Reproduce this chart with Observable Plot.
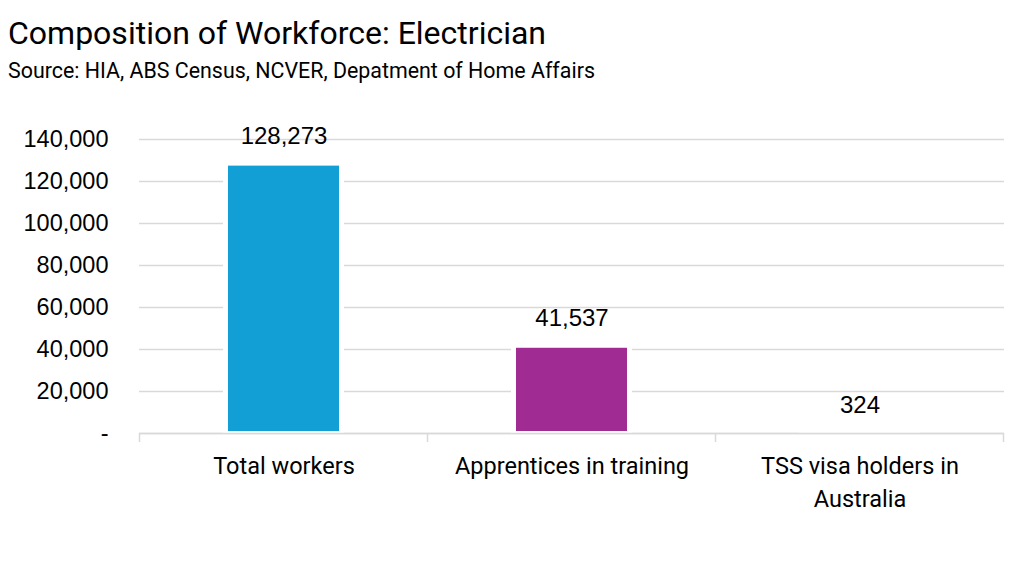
<!DOCTYPE html>
<html>
<head>
<meta charset="utf-8">
<script src="https://cdn.jsdelivr.net/npm/d3@7"></script>
<script src="https://cdn.jsdelivr.net/npm/@observablehq/plot@0.6"></script>
<style>
  html, body { margin: 0; padding: 0; background: #fff; width: 1024px; height: 576px; overflow: hidden; }
  #title { position: absolute; left: 8px; top: 14px; font-family: "Roboto", sans-serif; font-size: 32px; color: #000; white-space: nowrap; }
  #subtitle { position: absolute; left: 8px; top: 58px; font-family: "Roboto", sans-serif; font-size: 21.4px; color: #000; white-space: nowrap; }
  #chart { position: absolute; left: 0; top: 90px; }
</style>
</head>
<body>
<div id="title">Composition of Workforce: Electrician</div>
<div id="subtitle">Source: HIA, ABS Census, NCVER, Depatment of Home Affairs</div>
<div id="chart"></div>
<script>
const categories = ["Total workers", "Apprentices in training", "TSS visa holders in\nAustralia"];
const values = [128273, 41537, 324];
const barColors = ["#119FD6", "#A02B93", "#E97132"];
const yTicks = [0, 20000, 40000, 60000, 80000, 100000, 120000, 140000];

const data = categories.map((c, i) => ({category: c, value: values[i], color: barColors[i]}));
const fmt = d3.format(",");
const catFont = "Roboto, sans-serif";
const arial = "'Liberation Sans', Arial, sans-serif";

function bandBoundaries(index, scales, values, dimensions) {
  const x = scales.x;
  const step = x.step ? x.step() : (dimensions.width - dimensions.marginLeft - dimensions.marginRight) / categories.length;
  const bw = x.bandwidth ? x.bandwidth() : 0;
  const y0 = scales.y(0);
  const g = d3.create("svg:g");
  const edges = categories.map(c => x(c) + bw / 2 - step / 2);
  edges.push(x(categories[categories.length - 1]) + bw / 2 + step / 2);
  for (const e of edges) {
    g.append("line")
      .attr("x1", e).attr("x2", e)
      .attr("y1", y0).attr("y2", y0 + 9)
      .attr("stroke", "#d9d9d9").attr("stroke-width", 1.5);
  }
  return g.node();
}

const chart = Plot.plot({
  width: 1024,
  height: 486,
  marginTop: 49,
  marginBottom: 143,
  marginLeft: 139,
  marginRight: 20,
  style: {background: "#fff", overflow: "visible"},
  x: {domain: categories, paddingInner: 0.58, paddingOuter: 0.29},
  y: {domain: [0, 140000]},
  marks: [
    Plot.gridY(yTicks, {stroke: "#d9d9d9", strokeOpacity: 1, strokeWidth: 1.5}),
    Plot.barY(data, {x: "category", y: "value", fill: "#fff"}),
    Plot.barY(data, {x: "category", y: "value", fill: "color", insetLeft: 5, insetRight: 5, insetTop: 2, insetBottom: 2}),
    Plot.ruleY([0], {stroke: "#d9d9d9", strokeWidth: 1.5}),
    bandBoundaries,
    Plot.text(data, {x: "category", y: "value", text: d => fmt(d.value), dy: -28, fontSize: 24, fontFamily: arial, fill: "#000"}),
    Plot.axisY({ticks: yTicks, tickSize: 0, tickPadding: 31, tickFormat: d => d === 0 ? "-" : fmt(d), fontSize: 23.5, fontFamily: arial, fill: "#000", label: null}),
    Plot.axisX({tickSize: 0, tickPadding: 17, fontSize: 23.5, fontFamily: catFont, lineHeight: 1.4, lineAnchor: "top", fill: "#000", label: null})
  ]
});
document.getElementById("chart").appendChild(chart);
</script>
</body>
</html>
